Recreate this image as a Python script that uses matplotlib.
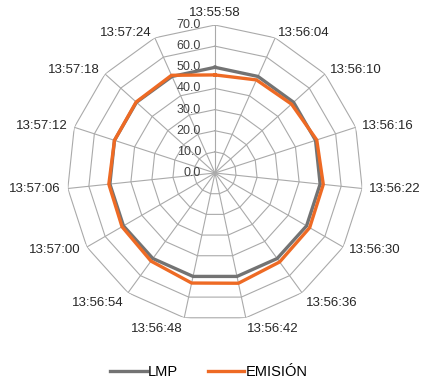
from matplotlib import pyplot as plt
import numpy as np

# categorias (hora de muestreo)
horas = ['13:55:58', '13:56:04', '13:56:10', '13:56:16', '13:56:22',
         '13:56:30', '13:56:36', '13:56:42', '13:56:48', '13:56:54',
         '13:57:00', '13:57:06', '13:57:12', '13:57:18', '13:57:24']
lmp = [50, 50, 50, 50, 50, 50, 50, 50, 50, 50, 50, 50, 50, 50, 50]
emision = [46.4, 48.2, 48.7, 50.6, 51.5, 51.7, 52.0, 53.3, 53.2, 51.5,
           50.8, 50.5, 50.0, 50.2, 50.6]
ticks = [0, 10, 20, 30, 40, 50, 60, 70]

plt.rcParams['font.family'] = ['Liberation Sans', 'DejaVu Sans']

n = len(horas)
ang = np.linspace(0, 2 * np.pi, n, endpoint=False)
ang_c = np.append(ang, ang[0])

fig = plt.figure(figsize=(4.22, 3.85), dpi=100)
ax = fig.add_axes([0.1588, 0.1662, 0.7014, 0.7688], projection='polar')
ax.set_theta_zero_location('N')
ax.set_theta_direction(-1)
ax.set_ylim(0, 70)
ax.grid(False)
ax.spines['polar'].set_visible(False)
ax.patch.set_visible(False)
ax.set_xticks([])
ax.set_yticks([])

grid_c = '#aaaaaa'
# anillos poligonales
for t in ticks[1:]:
    ax.plot(ang_c, [t] * (n + 1), color=grid_c, lw=0.8, zorder=1)
# radios
for a in ang:
    ax.plot([a, a], [0, 70], color=grid_c, lw=0.8, zorder=1)

# etiquetas del eje de valores
for t in ticks:
    ax.annotate('%.1f' % t, xy=(0, t), xytext=(-10, 0), textcoords='offset points',
                ha='right', va='center', fontsize=9, color='#404040')

# etiquetas de categoria
for a, h in zip(ang, horas):
    s, c = np.sin(a), np.cos(a)
    if abs(s) < 0.1:
        ha = 'center'
    elif s > 0:
        ha = 'left'
    else:
        ha = 'right'
    if c > 0.95:
        va = 'bottom'
    elif c < -0.6:
        va = 'top'
    else:
        va = 'center'
    ax.annotate(h, xy=(a, 70), xytext=(5 * s, 4 * c), textcoords='offset points',
                ha=ha, va=va, fontsize=9.5, color='#262626', annotation_clip=False)

ax.plot(ang_c, lmp + lmp[:1], color='#737373', lw=2.4, label='LMP', zorder=3)
ax.plot(ang_c, emision + emision[:1], color='#ee6a24', lw=2.4, label='EMISIÓN', zorder=4)

fig.legend(loc='center', bbox_to_anchor=(0.495, 0.034), ncol=2, frameon=False,
           fontsize=10.5, handlelength=2.5, handletextpad=0.1, columnspacing=2.0)

fig.savefig('out.png', dpi=100)
